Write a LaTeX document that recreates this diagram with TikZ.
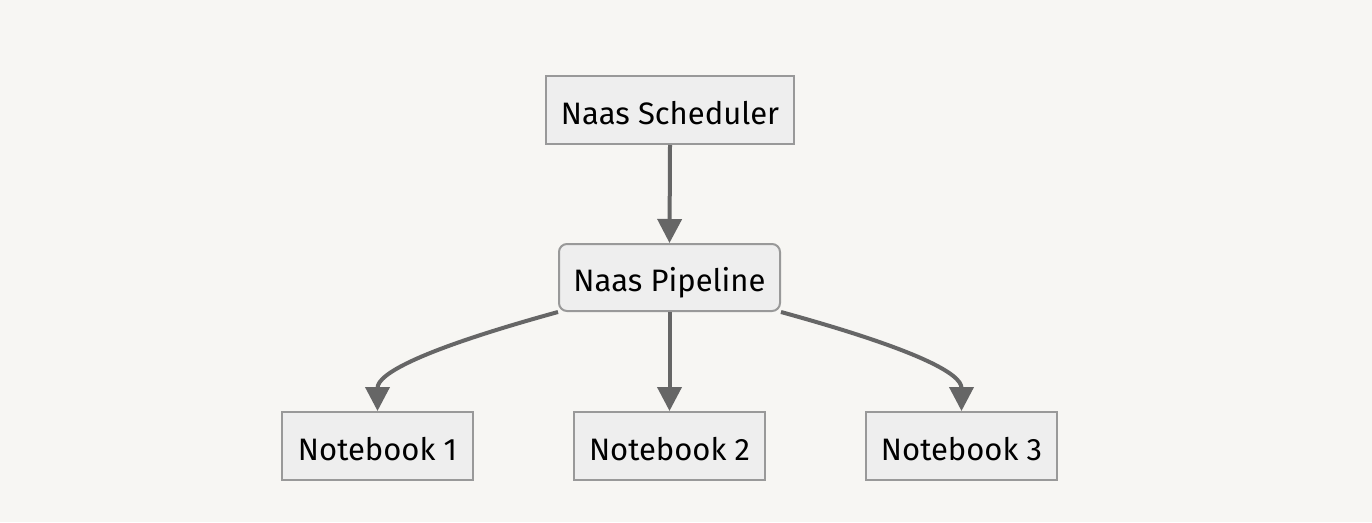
\documentclass[tikz,border=0pt]{standalone}
\usepackage{fontspec}
\setmainfont{Fira Sans}
\usetikzlibrary{arrows.meta}
\definecolor{bg}{HTML}{F7F6F3}
\definecolor{boxfill}{HTML}{EEEEEE}
\definecolor{boxline}{HTML}{999999}
\definecolor{edge}{HTML}{666666}
\tikzset{
  nodebox/.style={draw=boxline, fill=boxfill, line width=2pt, inner sep=0pt,
    text height=28pt, text depth=0pt,
    font=\fontsize{31}{37}\selectfont, text=black},
  conn/.style={draw=edge, line width=4pt, -{Triangle[length=24pt,width=24pt]}}
}
\begin{document}
\begin{tikzpicture}[x=1pt,y=-1pt]
\fill[bg] (0,0) rectangle (1372,522);
\useasboundingbox (0,0) rectangle (1372,522);
\node[nodebox, minimum width=248pt, minimum height=68pt] (sched) at (670,110) {Naas Scheduler};
\node[nodebox, rounded corners=8pt, minimum width=221pt, minimum height=67pt] (pipe) at (669.5,277.5) {Naas Pipeline};
\node[nodebox, minimum width=191pt, minimum height=68pt] (nb1) at (377.5,446) {Notebook 1};
\node[nodebox, minimum width=191pt, minimum height=68pt] (nb2) at (669.5,446) {Notebook 2};
\node[nodebox, minimum width=191pt, minimum height=68pt] (nb3) at (961.5,446) {Notebook 3};
\draw[conn] (sched.south) -- (pipe.north);
\draw[conn] (pipe.south) -- (nb2.north);
\draw[conn] (pipe.south west) .. controls +(-138,38) and +(0,-37) .. (nb1.north);
\draw[conn] (pipe.south east) .. controls +(138,38) and +(0,-37) .. (nb3.north);
\end{tikzpicture}
\end{document}
